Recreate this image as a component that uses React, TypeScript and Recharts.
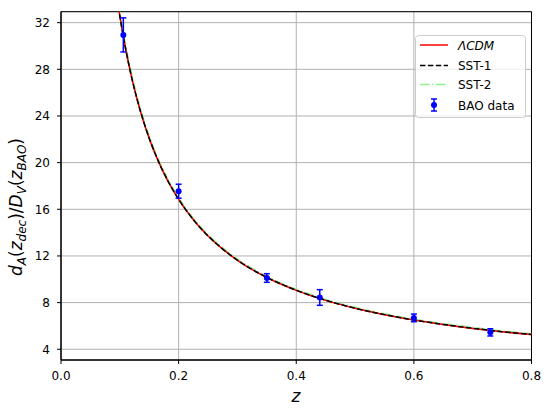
import React from "react";
import {
  ComposedChart,
  Line,
  Scatter,
  ErrorBar,
  XAxis,
  YAxis,
  CartesianGrid,
  ReferenceArea,
} from "recharts";

// Model curves
const zGrid = [0.09, 0.095, 0.1, 0.105, 0.11, 0.12, 0.13, 0.14, 0.15, 0.16, 0.18, 0.2, 0.225, 0.25, 0.275, 0.3, 0.35, 0.4, 0.45, 0.5, 0.55, 0.6, 0.65, 0.7, 0.75, 0.8];
const lcdmVals = [36.09, 34.24, 32.58, 31.09, 29.72, 27.33, 25.31, 23.58, 22.08, 20.77, 18.59, 16.85, 15.1, 13.71, 12.58, 11.63, 10.15, 9.05, 8.19, 7.51, 6.96, 6.5, 6.12, 5.79, 5.5, 5.26];
const sst1Vals = [36.1, 34.25, 32.59, 31.1, 29.73, 27.34, 25.32, 23.59, 22.09, 20.78, 18.6, 16.86, 15.11, 13.72, 12.59, 11.64, 10.16, 9.06, 8.2, 7.52, 6.97, 6.51, 6.13, 5.8, 5.51, 5.27];
const sst2Vals = [36.3, 34.45, 32.78, 31.28, 29.9, 27.49, 25.45, 23.72, 22.2, 20.89, 18.69, 16.94, 15.18, 13.79, 12.65, 11.69, 10.21, 9.11, 8.25, 7.57, 7.01, 6.55, 6.17, 5.84, 5.55, 5.31];

// BAO data
const baoZ = [0.106, 0.2, 0.35, 0.44, 0.6, 0.73];
const baoVals = [30.95, 17.55, 10.11, 8.44, 6.69, 5.45];
const baoErrs = [1.46, 0.6, 0.37, 0.67, 0.33, 0.31];

// Axes
const xTicks = [0, 0.2, 0.4, 0.6, 0.8];
const yTicks = [4, 8, 12, 16, 20, 24, 28, 32];
const xDomain: [number, number] = [0, 0.8];
const yDomain: [number, number] = [3.08, 32.94];

const lcdmData = zGrid.map((x, i) => ({ x, y: lcdmVals[i] }));
const sst1Data = zGrid.map((x, i) => ({ x, y: sst1Vals[i] }));
const sst2Data = zGrid.map((x, i) => ({ x, y: sst2Vals[i] }));
const baoData = baoZ.map((x, i) => ({ x, y: baoVals[i], err: baoErrs[i] }));

const FONT = "'DejaVu Sans', sans-serif";

const Dot = (props: any) => {
  const { cx, cy } = props;
  return <circle cx={cx} cy={cy} r={3} fill="#0000ff" />;
};

const YLabel = () => (
  <text
    transform="translate(22,207) rotate(-90)"
    textAnchor="middle"
    fontFamily={FONT}
    fontSize={17}
    fill="#000"
  >
    <tspan fontStyle="italic">d</tspan>
    <tspan fontStyle="italic" fontSize={12} dy={4}>A</tspan>
    <tspan dy={-4}>(</tspan>
    <tspan fontStyle="italic">z</tspan>
    <tspan fontStyle="italic" fontSize={12} dy={4}>dec</tspan>
    <tspan dy={-4}>)/</tspan>
    <tspan fontStyle="italic">D</tspan>
    <tspan fontStyle="italic" fontSize={12} dy={4}>V</tspan>
    <tspan dy={-4}>(</tspan>
    <tspan fontStyle="italic">z</tspan>
    <tspan fontStyle="italic" fontSize={12} dy={4}>BAO</tspan>
    <tspan dy={-4}>)</tspan>
  </text>
);

const XLabel = () => (
  <text x={296} y={402} textAnchor="middle" fontFamily={FONT} fontSize={17} fontStyle="italic" fill="#000">
    z
  </text>
);

const LegendBox = () => (
  <svg
    width={550}
    height={408}
    style={{ position: "absolute", left: 0, top: 0, pointerEvents: "none" }}
  >
    <rect x={415.5} y={35.5} width={110} height={82} rx={3} fill="#ffffff" fillOpacity={0.8} stroke="#cccccc" />
    <line x1={420} x2={448} y1={45} y2={45} stroke="#ff0000" strokeWidth={1.5} />
    <text x={458} y={49.5} fontFamily={FONT} fontSize={12} fontStyle="italic" fill="#000">ΛCDM</text>
    <line x1={420} x2={448} y1={65.5} y2={65.5} stroke="#000" strokeWidth={1.5} strokeDasharray="5.5 2.4" />
    <text x={458} y={70} fontFamily={FONT} fontSize={12} fill="#000">SST-1</text>
    <line x1={420} x2={448} y1={84.5} y2={84.5} stroke="#90ee90" strokeWidth={1.5} strokeDasharray="9.6 2.4 1.5 2.4" />
    <text x={458} y={89} fontFamily={FONT} fontSize={12} fill="#000">SST-2</text>
    <line x1={434} x2={434} y1={99} y2={111} stroke="#0000ff" strokeWidth={1.5} />
    <line x1={431} x2={437} y1={99} y2={99} stroke="#0000ff" strokeWidth={1.5} />
    <line x1={431} x2={437} y1={111} y2={111} stroke="#0000ff" strokeWidth={1.5} />
    <circle cx={434} cy={105} r={3} fill="#0000ff" />
    <text x={458} y={109.5} fontFamily={FONT} fontSize={12} fill="#000">BAO data</text>
  </svg>
);

export default function App() {
  return (
    <div style={{ position: "absolute", left: 0, top: 0, width: 550, height: 408, background: "#fff" }}>
      <ComposedChart
        width={550}
        height={408}
        margin={{ top: 11.7, right: 18.5, bottom: 0, left: 0 }}
      >
        <CartesianGrid stroke="#b0b0b0" strokeWidth={1} />
        <XAxis
          type="number"
          dataKey="x"
          domain={xDomain}
          ticks={xTicks}
          allowDataOverflow
          height={48}
          tickSize={4}
          tickMargin={7}
          tickLine={{ stroke: "#000" }}
          axisLine={{ stroke: "#000" }}
          tick={{ fill: "#000", fontFamily: FONT, fontSize: 12 }}
          tickFormatter={(v: number) => v.toFixed(1)}
          label={{ content: () => <XLabel /> }}
        />
        <YAxis
          type="number"
          domain={yDomain}
          ticks={yTicks}
          allowDataOverflow
          width={61}
          tickSize={4}
          tickMargin={7}
          tickLine={{ stroke: "#000" }}
          axisLine={{ stroke: "#000" }}
          tick={{ fill: "#000", fontFamily: FONT, fontSize: 12 }}
          label={{ content: () => <YLabel /> }}
        />
        <Line
          data={sst2Data}
          dataKey="y"
          type="monotone"
          stroke="#90ee90"
          strokeWidth={2.2}
          strokeDasharray="9.6 2.4 1.5 2.4"
          dot={false}
          isAnimationActive={false}
        />
        <Line
          data={lcdmData}
          dataKey="y"
          type="monotone"
          stroke="#ff0000"
          strokeWidth={1.5}
          dot={false}
          isAnimationActive={false}
        />
        <Line
          data={sst1Data}
          dataKey="y"
          type="monotone"
          stroke="#000000"
          strokeWidth={1.5}
          strokeDasharray="5.5 2.4"
          dot={false}
          isAnimationActive={false}
        />
        <Scatter data={baoData} dataKey="y" shape={<Dot />} isAnimationActive={false}>
          <ErrorBar dataKey="err" direction="y" width={3} stroke="#0000ff" strokeWidth={1.5} />
        </Scatter>
        <ReferenceArea
          x1={0}
          x2={0.8}
          y1={yDomain[0]}
          y2={yDomain[1]}
          fill="none"
          stroke="#000"
          strokeWidth={1}
        />
      </ComposedChart>
      <LegendBox />
    </div>
  );
}
